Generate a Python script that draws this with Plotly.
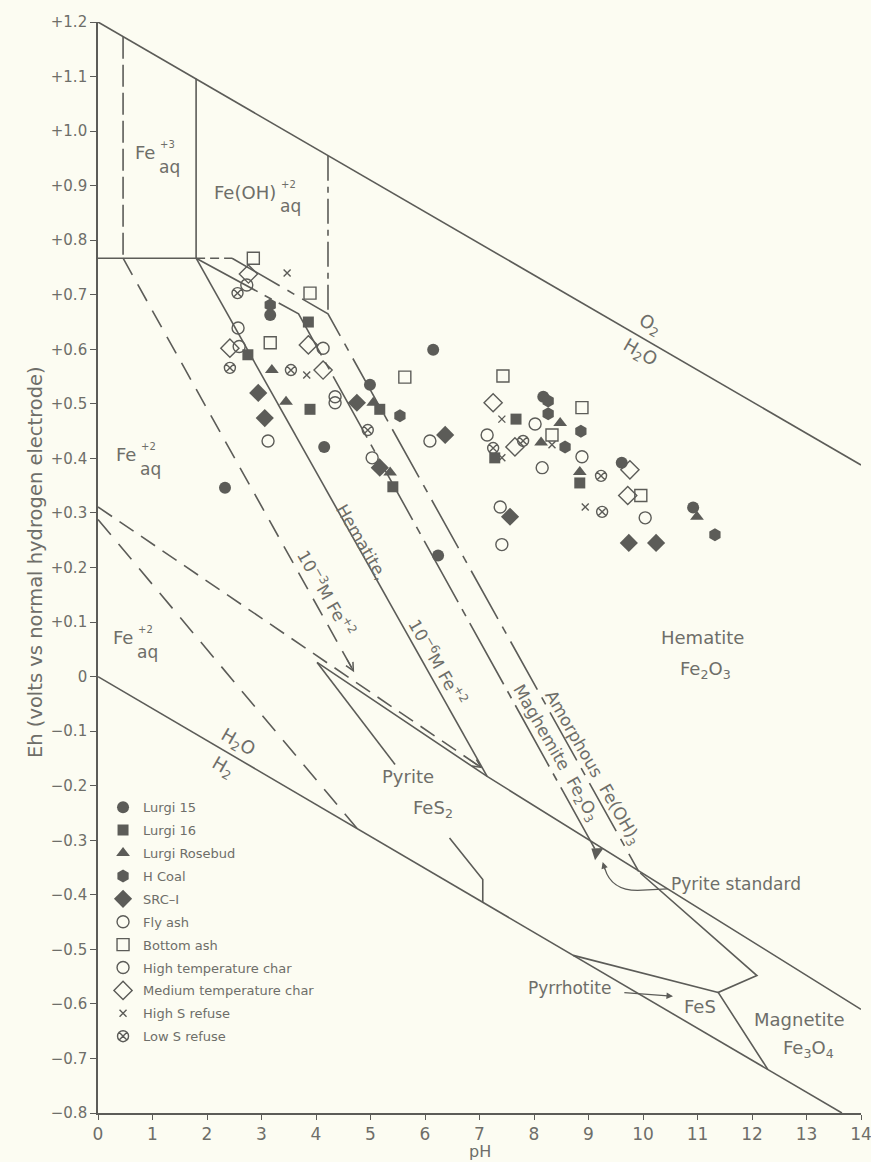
import plotly.graph_objects as go

BG = "#fcfcf2"
INK = "#5c5c58"
TXT = "#6e6e69"
FONT = "DejaVu Sans"

# ---------------- sample measurements: pH and Eh (volts) ----------------
lurgi15_ph = [3.16, 2.33, 4.15, 4.99, 6.15, 6.24, 8.17, 9.61, 10.92]
lurgi15_eh = [0.663, 0.346, 0.421, 0.535, 0.599, 0.222, 0.513, 0.392, 0.310]

lurgi16_ph = [3.86, 2.75, 3.89, 5.17, 5.41, 7.67, 7.28, 8.84]
lurgi16_eh = [0.650, 0.590, 0.490, 0.490, 0.348, 0.472, 0.401, 0.355]

rosebud_ph = [3.19, 3.45, 5.05, 5.36, 8.48, 8.13, 8.84, 10.99]
rosebud_eh = [0.562, 0.504, 0.502, 0.374, 0.465, 0.429, 0.375, 0.293]

hcoal_ph = [3.16, 5.54, 8.26, 8.26, 8.57, 8.86, 11.32]
hcoal_eh = [0.681, 0.478, 0.505, 0.482, 0.421, 0.450, 0.260]

src_ph = [2.94, 3.06, 4.75, 5.17, 6.37, 7.56, 9.74, 10.24]
src_eh = [0.520, 0.474, 0.502, 0.383, 0.443, 0.293, 0.245, 0.245]

flyash_ph = [2.73, 2.59, 3.12, 4.35, 5.03, 6.09, 7.38, 8.88]
flyash_eh = [0.718, 0.605, 0.432, 0.513, 0.401, 0.432, 0.311, 0.403]

bottomash_ph = [2.85, 3.89, 3.16, 5.63, 7.43, 8.88, 8.33, 9.96]
bottomash_eh = [0.767, 0.703, 0.612, 0.549, 0.551, 0.493, 0.443, 0.332]

hichar_ph = [2.57, 4.13, 4.35, 7.14, 8.02, 8.15, 7.41, 10.04]
hichar_eh = [0.639, 0.602, 0.502, 0.443, 0.463, 0.383, 0.242, 0.291]

medchar_ph = [2.76, 2.42, 3.86, 4.13, 7.25, 7.65, 9.76, 9.72]
medchar_eh = [0.738, 0.602, 0.608, 0.562, 0.502, 0.421, 0.379, 0.332]

highs_ph = [3.47, 3.83, 7.41, 7.41, 8.33, 8.94]
highs_eh = [0.740, 0.553, 0.472, 0.401, 0.425, 0.311]

lows_ph = [2.56, 2.42, 3.54, 4.95, 7.25, 7.80, 9.23, 9.25]
lows_eh = [0.703, 0.566, 0.562, 0.452, 0.419, 0.432, 0.368, 0.302]

pyrite_std_ph = [9.15]
pyrite_std_eh = [-0.322]

# ---------------- stability boundaries: (pH, Eh) vertices ----------------
o2_h2o = [(0, 1.20), (14, 0.388)]
h2o_h2 = [(0, 0.0), (13.65, -0.80)]
fe3_feoh_dash = [(0.46, 1.173), (0.46, 0.767)]
fe3_feoh_solid = [(1.80, 1.096), (1.80, 0.767)]
fe2_fe3_top = [(0, 0.767), (1.80, 0.767)]
fe2_fe3_ext = [(1.80, 0.767), (2.46, 0.767)]
feoh_amorph_vert = [(4.22, 0.955), (4.22, 0.665)]
amorphous = [(2.46, 0.767), (4.22, 0.665), (9.92, -0.357)]
maghemite = [(1.80, 0.767), (3.68, 0.665), (9.15, -0.322)]
hematite_1e6 = [(1.80, 0.767), (7.14, -0.183)]
hematite_1e3 = [(0.46, 0.767), (4.70, 0.008)]
fe2_shallow = [(0, 0.311), (7.05, -0.168)]
fe2_steep = [(0, 0.288), (4.75, -0.278)]
pyrite_top = [(4.02, 0.026), (7.14, -0.183), (14, -0.61)]
pyrite_left_a = [(4.02, 0.026), (5.45, -0.161)]
pyrite_left_b = [(6.45, -0.296), (7.06, -0.372), (7.06, -0.414)]
pyrrhotite_top = [(8.72, -0.511), (11.38, -0.579)]
magnetite_edge = [(9.95, -0.360), (12.09, -0.548), (11.38, -0.579), (12.29, -0.720)]

fig = go.Figure()


def boundary(pts, dash="solid", width=1.6):
    fig.add_trace(go.Scatter(
        x=[p[0] for p in pts], y=[p[1] for p in pts], mode="lines",
        line=dict(color=INK, width=width, dash=dash),
        showlegend=False, hoverinfo="skip"))


boundary(o2_h2o)
boundary(h2o_h2)
boundary(fe3_feoh_dash, "22px,6px")
boundary(fe3_feoh_solid)
boundary(fe2_fe3_top)
boundary(fe2_fe3_ext, "9px,5px")
boundary(feoh_amorph_vert, "25px,6px,6px,6px")
boundary(amorphous, "55px,9px,8px,9px")
boundary(maghemite, "70px,8px,8px,8px")
boundary(hematite_1e6)
boundary(hematite_1e3, "19px,11px")
boundary(fe2_shallow, "17px,9px")
boundary(fe2_steep, "20px,12px")
boundary(pyrite_top)
boundary(pyrite_left_a)
boundary(pyrite_left_b)
boundary(pyrrhotite_top)
boundary(magnetite_edge)

# ---------------- sample markers ----------------
series = [
    ("Lurgi 15", lurgi15_ph, lurgi15_eh, "circle", 12, True),
    ("Lurgi 16", lurgi16_ph, lurgi16_eh, "square", 11, True),
    ("Lurgi Rosebud", rosebud_ph, rosebud_eh, "triangle-up", 12, True),
    ("H Coal", hcoal_ph, hcoal_eh, "hexagon", 13, True),
    ("SRC\u2013I", src_ph, src_eh, "diamond", 14, True),
    ("Fly ash", flyash_ph, flyash_eh, "circle-open", 12, False),
    ("Bottom ash", bottomash_ph, bottomash_eh, "square-open", 12, False),
    ("High temperature char", hichar_ph, hichar_eh, "circle-open", 12, False),
    ("Medium temperature char", medchar_ph, medchar_eh, "diamond-open", 14, False),
    ("High S refuse", highs_ph, highs_eh, "x-thin-open", 7, False),
    ("Low S refuse", lows_ph, lows_eh, "circle-x-open", 11, False),
]
for i, (name, xs, ys, sym, size, filled) in enumerate(series):
    marker = dict(symbol=sym, size=size, color=INK,
                  line=dict(color=INK, width=1.4 if not filled else 0))
    fig.add_trace(go.Scatter(x=xs, y=ys, mode="markers", name=name,
                             legendgroup=f"g{i}", marker=marker,
                             hoverinfo="skip"))

fig.add_trace(go.Scatter(x=pyrite_std_ph, y=pyrite_std_eh, mode="markers",
                         marker=dict(symbol="triangle-up", size=13, color=INK,
                                     angle=-55),
                         showlegend=False, hoverinfo="skip"))

# ---------------- labels ----------------
ann = []


def label(x, y, text, size=18, angle=0, xanchor="center", yanchor="middle",
          xshift=0, yshift=0):
    ann.append(dict(x=x, y=y, xref="x", yref="y", text=text, showarrow=False,
                    textangle=angle, xanchor=xanchor, yanchor=yanchor,
                    xshift=xshift, yshift=yshift,
                    font=dict(family=FONT, size=size, color=TXT)))


def ion(x, y, main, charge):
    label(x, y, main, xanchor="right")
    label(x, y, charge, size=10, xanchor="left", xshift=1, yshift=8)
    label(x, y, "aq", size=17, xanchor="left", xshift=0, yshift=-14)


ion(1.08, 0.960, "Fe", "+3")
ion(3.30, 0.888, "Fe(OH)", "+2")
ion(0.73, 0.407, "Fe", "+2")
ion(0.68, 0.071, "Fe", "+2")

label(10.13, 0.645, "O<sub>2</sub>", angle=30)
label(9.94, 0.593, "H<sub>2</sub>O", angle=30)
label(2.57, -0.121, "H<sub>2</sub>O", angle=30)
label(2.30, -0.167, "H<sub>2</sub>", angle=30)

label(4.20, 0.154, "10<sup>\u22123</sup>M Fe<sup>+2</sup>", size=17, angle=60)
label(4.84, 0.247, "Hematite,", size=17, angle=60)
label(6.24, 0.027, "10<sup>\u22126</sup>M Fe<sup>+2</sup>", size=17, angle=60)
label(8.39, -0.141, "Maghemite  Fe<sub>2</sub>O<sub>3</sub>", size=17, angle=60)
label(9.06, -0.167, "Amorphous  Fe(OH)<sub>3</sub>", size=17, angle=60)

label(5.69, -0.183, "Pyrite")
label(6.15, -0.243, "FeS<sub>2</sub>")
label(11.10, 0.071, "Hematite")
label(11.14, 0.013, "Fe<sub>2</sub>O<sub>3</sub>")
label(10.48, -0.381, "Pyrite standard", size=17, xanchor="left")
label(9.45, -0.570, "Pyrrhotite", size=17, xanchor="right")
label(11.05, -0.604, "FeS")
label(12.88, -0.628, "Magnetite")
label(13.03, -0.683, "Fe<sub>3</sub>O<sub>4</sub>")

# arrows
ann.append(dict(x=10.55, y=-0.586, ax=9.63, ay=-0.579, xref="x", yref="y",
                axref="x", ayref="y", text="", showarrow=True, arrowhead=2,
                arrowsize=1, arrowwidth=1.3, arrowcolor=INK))
ann.append(dict(x=9.26, y=-0.340, ax=9.31, ay=-0.356, xref="x", yref="y",
                axref="x", ayref="y", text="", showarrow=True, arrowhead=2,
                arrowsize=1, arrowwidth=1.3, arrowcolor=INK))
ann.append(dict(x=4.70, y=0.008, ax=4.55, ay=0.035, xref="x", yref="y",
                axref="x", ayref="y", text="", showarrow=True, arrowhead=5,
                arrowsize=1.2, arrowwidth=1.3, arrowcolor=INK))
ann.append(dict(x=7.05, y=-0.168, ax=6.80, ay=-0.151, xref="x", yref="y",
                axref="x", ayref="y", text="", showarrow=True, arrowhead=5,
                arrowsize=1.2, arrowwidth=1.3, arrowcolor=INK))

# axis titles
ann.append(dict(x=-0.0996, y=0.209, xref="paper", yref="y",
                text="Eh (volts vs normal hydrogen electrode)", showarrow=False,
                textangle=-90, font=dict(family=FONT, size=19.5, color=TXT)))
ann.append(dict(x=7, y=-0.8, xref="x", yref="y", text="pH", showarrow=False,
                yshift=-38, font=dict(family=FONT, size=16, color=TXT)))

# curved leader from "Pyrite standard"
shapes = [dict(type="path", xref="x", yref="y",
               path="M 10.45,-0.389 L 9.90,-0.392 Q 9.42,-0.392 9.30,-0.352",
               line=dict(color=INK, width=1.3))]

yvals = [1.2 - 0.1 * i for i in range(21)]
ytext = []
for v in yvals:
    v = round(v, 1)
    if v > 0:
        ytext.append(f"+{v:.1f}")
    elif v == 0:
        ytext.append("0")
    else:
        ytext.append(f"\u2212{abs(v):.1f}")

fig.update_layout(
    width=871, height=1162,
    margin=dict(l=98, r=10, t=22, b=49, autoexpand=False),
    paper_bgcolor=BG, plot_bgcolor=BG,
    annotations=ann, shapes=shapes,
    showlegend=True,
    legend=dict(x=0.0066, y=0.294, xanchor="left", yanchor="top",
                bgcolor="rgba(0,0,0,0)", tracegroupgap=3,
                font=dict(family=FONT, size=13, color=TXT)),
    xaxis=dict(range=[0, 14], tickvals=list(range(15)),
               ticks="outside", ticklen=5, tickcolor=INK,
               showline=True, linecolor=INK, linewidth=1.6,
               showgrid=False, zeroline=False, automargin=False,
               ticklabeloverflow="allow",
               tickfont=dict(family=FONT, size=17, color=TXT)),
    yaxis=dict(range=[-0.8, 1.2], tickvals=yvals, ticktext=ytext,
               ticks="outside", ticklen=6, tickcolor=INK,
               showline=True, linecolor=INK, linewidth=1.6,
               showgrid=False, zeroline=False, automargin=False,
               tickfont=dict(family=FONT, size=15, color=TXT)),
)

fig.write_html("out.html")
